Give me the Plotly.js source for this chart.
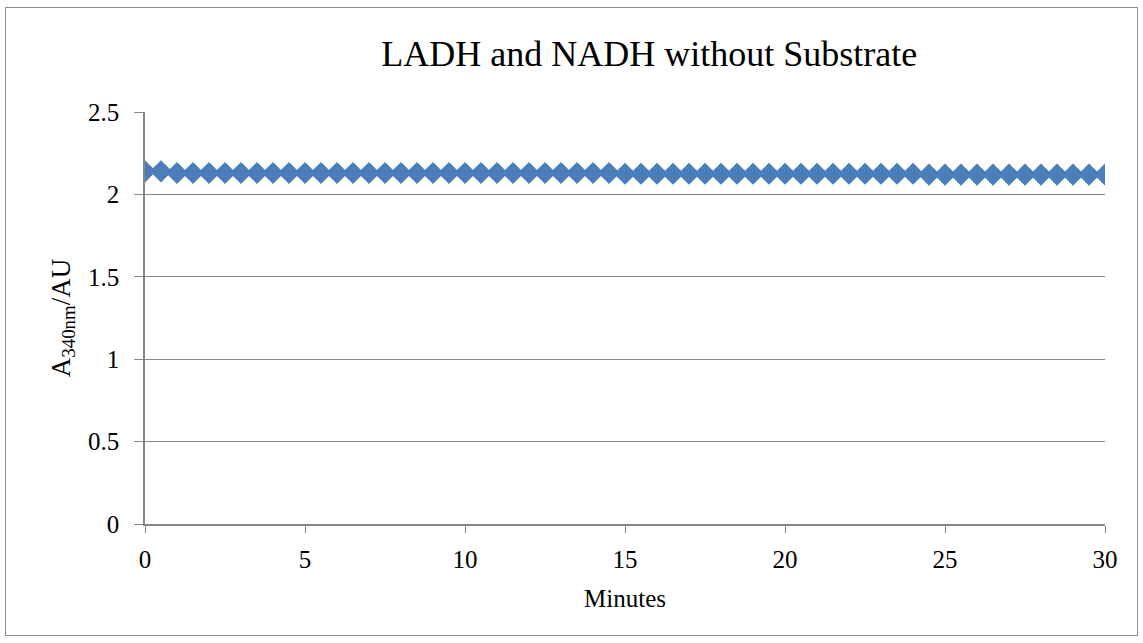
<!DOCTYPE html>
<html>
<head>
<meta charset="utf-8">
<script src="https://cdn.plot.ly/plotly-3.0.1.min.js"></script>
<style>
html,body{margin:0;padding:0;background:#fff;}
#frame{position:absolute;left:5px;top:7px;width:1131px;height:627px;border:1px solid #8c8c8c;}
#chart{position:absolute;left:0;top:0;width:1143px;height:643px;}
</style>
</head>
<body>
<div id="frame"></div>
<div id="chart"></div>
<script>
const minutes = [0,0.5,1,1.5,2,2.5,3,3.5,4,4.5,5,5.5,6,6.5,7,7.5,8,8.5,9,9.5,10,10.5,11,11.5,12,12.5,13,13.5,14,14.5,15,15.5,16,16.5,17,17.5,18,18.5,19,19.5,20,20.5,21,21.5,22,22.5,23,23.5,24,24.5,25,25.5,26,26.5,27,27.5,28,28.5,29,29.5,30];
const absorbance = [2.14,2.14,2.13,2.13,2.13,2.13,2.13,2.13,2.13,2.13,2.13,2.13,2.13,2.13,2.13,2.13,2.13,2.13,2.13,2.13,2.13,2.13,2.13,2.13,2.13,2.13,2.13,2.13,2.13,2.13,2.125,2.125,2.125,2.125,2.125,2.125,2.125,2.125,2.125,2.125,2.125,2.125,2.125,2.125,2.125,2.125,2.125,2.125,2.125,2.12,2.12,2.12,2.12,2.12,2.12,2.12,2.12,2.12,2.12,2.12,2.12];
const xTickVals = [0,5,10,15,20,25,30];
const yTickVals = [0,0.5,1,1.5,2,2.5];
const yTickText = ['0','0.5','1','1.5','2','2.5'];
const titleText = "LADH and NADH without Substrate";
const xTitle = "Minutes";
const yTitle = "A<sub>340nm</sub>/AU";
const font = "Liberation Serif, DejaVu Serif, serif";

Plotly.newPlot('chart', [{
  x: minutes, y: absorbance, type: 'scatter', mode: 'markers',
  marker: {symbol: 'diamond', size: 17, color: '#4a7ebb', line: {color: '#4a7ebb', width: 0}},
  showlegend: false, hoverinfo: 'x+y'
}], {
  width: 1143, height: 643,
  paper_bgcolor: 'rgba(0,0,0,0)', plot_bgcolor: '#fff',
  margin: {l: 145, r: 38, t: 112, b: 119},
  title: {text: titleText, font: {family: font, size: 36, color: '#000'}, x: 0.568, xanchor: 'center', y: 0.917, yanchor: 'middle'},
  xaxis: {
    range: [0, 30], tickvals: xTickVals, ticks: 'outside', ticklen: 7, tickcolor: '#868686', tickwidth: 1,
    showgrid: false, zeroline: false, showline: true, linecolor: '#868686', linewidth: 1.5,
    tickfont: {family: font, size: 25, color: '#000'}, ticklabelstandoff: 5,
    title: {text: xTitle, font: {family: font, size: 25, color: '#000'}, standoff: 18}
  },
  yaxis: {
    range: [0, 2.5], tickvals: yTickVals, ticktext: yTickText, ticks: 'outside', ticklen: 9, tickcolor: '#868686', tickwidth: 1,
    showgrid: true, gridcolor: '#868686', gridwidth: 1, zeroline: false, showline: true, linecolor: '#868686', linewidth: 1.5,
    tickfont: {family: font, size: 25, color: '#000'}, ticklabelstandoff: 10,
    title: {text: yTitle, font: {family: font, size: 27, color: '#000'}, standoff: 10}
  }
}, {displayModeBar: false});
</script>
</body>
</html>
